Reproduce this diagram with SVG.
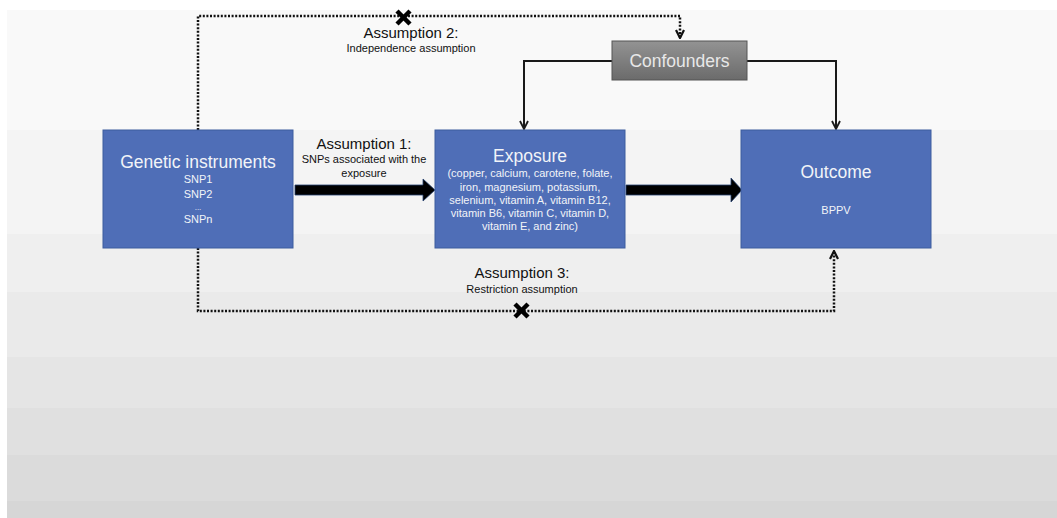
<svg xmlns="http://www.w3.org/2000/svg" width="1057" height="518" viewBox="0 0 1057 518">
<style>
.box{fill:#4f6eb7;stroke:#3d5c9e;stroke-width:1}
.t{font-family:"Liberation Sans",Arial,sans-serif;text-anchor:middle}
.wt{fill:#f2f4f8}
.big{font-size:17.5px}
.sm{font-size:11px}
.lbl{font-size:15px;fill:#111}
.sub{font-size:11px;fill:#111}
.dot{fill:none;stroke:#111;stroke-width:2.5;stroke-dasharray:2 1.6}
.solid{fill:none;stroke:#1a1a1a;stroke-width:2}
.x{stroke:#000;stroke-width:4.5;stroke-linecap:butt}
.thick{fill:#000;stroke:#24406e;stroke-width:0.8}
</style>
<defs>
<linearGradient id="gray" x1="0" y1="0" x2="0" y2="1">
<stop offset="0" stop-color="#939393"/>
<stop offset="1" stop-color="#6b6b6b"/>
</linearGradient>
<marker id="open" viewBox="0 0 10 10" refX="9" refY="5" markerWidth="10" markerHeight="10" markerUnits="userSpaceOnUse" orient="auto">
<path d="M1,1 L9,5 L1,9" fill="none" stroke="#1a1a1a" stroke-width="1.8"/>
</marker>
<marker id="openDot" viewBox="0 0 10 10" refX="9" refY="5" markerWidth="10" markerHeight="10" markerUnits="userSpaceOnUse" orient="auto">
<path d="M1,1 L9,5 L1,9" fill="none" stroke="#111" stroke-width="2.2"/>
</marker>
</defs>
<g id="background">
<rect x="0" y="0" width="1057" height="518" fill="#ffffff"/>
<rect x="7" y="10" width="1050" height="120" fill="#f9f9f9"/>
<rect x="7" y="130" width="1050" height="104" fill="#f4f4f4"/>
<rect x="7" y="234" width="1050" height="58" fill="#efefef"/>
<rect x="7" y="292" width="1050" height="65" fill="#eaeaea"/>
<rect x="7" y="357" width="1050" height="51" fill="#e5e5e5"/>
<rect x="7" y="408" width="1050" height="47" fill="#e0e0e0"/>
<rect x="7" y="455" width="1050" height="46" fill="#dbdbdb"/>
<rect x="7" y="501" width="1050" height="17" fill="#d6d6d6"/>
</g>
<g id="connectors">
<path class="dot" d="M198,130 V16 H680 V38" marker-end="url(#openDot)"/>
<path class="dot" d="M198,248 V311 H834 V251" marker-end="url(#openDot)"/>
<path class="solid" d="M612,61 H524 V129" marker-end="url(#open)"/>
<path class="solid" d="M747,61 H836 V129" marker-end="url(#open)"/>
<polygon class="thick" points="295,185 423,185 423,179 435,190 423,201 423,195 295,195"/>
<polygon class="thick" points="626,185 731,185 731,178 742,190 731,202 731,195 626,195"/>
<g id="x-top"><line class="x" x1="397" y1="11" x2="410" y2="24"/><line class="x" x1="410" y1="11" x2="397" y2="24"/></g>
<g id="x-bottom"><line class="x" x1="515" y1="304" x2="528" y2="317"/><line class="x" x1="528" y1="304" x2="515" y2="317"/></g>
</g>
<g id="label-a1">
<text class="t lbl" x="364" y="149">Assumption 1:</text>
<text class="t sub" x="364" y="163">SNPs associated with the</text>
<text class="t sub" x="364" y="176.5">exposure</text>
</g>
<g id="label-a2">
<text class="t lbl" x="411" y="38">Assumption 2:</text>
<text class="t sub" x="411" y="51.5">Independence assumption</text>
</g>
<g id="label-a3">
<text class="t lbl" x="522" y="278">Assumption 3:</text>
<text class="t sub" x="522" y="293">Restriction assumption</text>
</g>
<g id="node-genetic">
<rect class="box" x="103" y="130" width="190" height="118"/>
<text class="t wt big" x="198" y="168">Genetic instruments</text>
<text class="t wt sm" x="198" y="183">SNP1</text>
<text class="t wt sm" x="198" y="197.5">SNP2</text>
<text class="t wt" style="font-size:8px" x="198" y="210">...</text>
<text class="t wt sm" x="198" y="223">SNPn</text>
</g>
<g id="node-exposure">
<rect class="box" x="435" y="130" width="190" height="118"/>
<text class="t wt big" x="530" y="162">Exposure</text>
<text class="t wt sm" x="530" y="177">(copper, calcium, carotene, folate,</text>
<text class="t wt sm" x="530" y="190.5">iron, magnesium, potassium,</text>
<text class="t wt sm" x="530" y="203.5">selenium, vitamin A, vitamin B12,</text>
<text class="t wt sm" x="530" y="216.5">vitamin B6, vitamin C, vitamin D,</text>
<text class="t wt sm" x="530" y="229.5">vitamin E, and zinc)</text>
</g>
<g id="node-outcome">
<rect class="box" x="741" y="130" width="190" height="118"/>
<text class="t wt big" x="836" y="178">Outcome</text>
<text class="t wt sm" x="836" y="214">BPPV</text>
</g>
<g id="node-confounders">
<rect x="612" y="41" width="135" height="39" fill="url(#gray)" stroke="#555" stroke-width="1"/>
<text class="t big" fill="#e8e8e8" x="679.5" y="67">Confounders</text>
</g>
</svg>
